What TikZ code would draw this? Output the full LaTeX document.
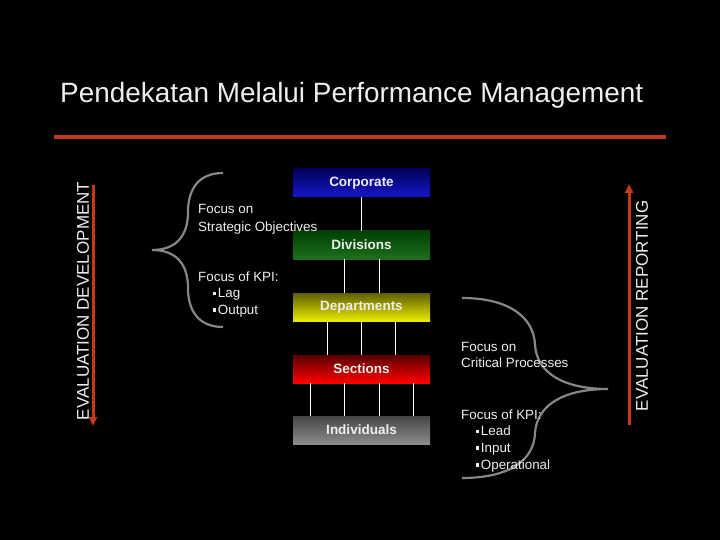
\documentclass[tikz,border=0pt]{standalone}
\usepackage{fontspec}
\setmainfont{Liberation Sans}
\usetikzlibrary{arrows.meta}
\definecolor{redline}{RGB}{192,58,28}
\definecolor{bracegray}{RGB}{135,135,135}
\definecolor{txt}{RGB}{238,238,238}
\tikzset{
  box/.style={minimum width=137pt, minimum height=28pt, inner sep=0pt, text=txt, font=\fontsize{13.5}{15}\selectfont\bfseries},
  lab/.style={anchor=base west, inner sep=0pt, text=txt, font=\fontsize{13.4}{15}\selectfont},
  side/.style={inner sep=0pt, text=txt, rotate=90, font=\fontsize{17}{19}\selectfont},
  conn/.style={draw=white, line width=1pt},
  brace/.style={draw=bracegray, line width=2.2pt},
  evarrow/.style={draw=redline, line width=3pt, -{Triangle[length=9pt,width=8pt]}}
}
\newcommand{\bul}{\raisebox{2.5pt}{\rule{3.2pt}{3.2pt}}\hspace{1.5pt}}
\begin{document}
\begin{tikzpicture}[x=1pt,y=-1pt]
\fill[black] (0,0) rectangle (720,540);
\useasboundingbox (0,0) rectangle (720,540);
% title
\node[anchor=base west, inner sep=0pt, text=txt, font=\fontsize{27.9}{30}\selectfont] (title) at (60,103) {Pendekatan Melalui Performance Management};
\fill[redline] (54,135.5) rectangle (666,139.5);
% side arrows
\coordinate (la1) at (93,185); \coordinate (la2) at (93,426);
\draw[evarrow] (la1) -- (la2);
\coordinate (ra1) at (629,425); \coordinate (ra2) at (629,184);
\draw[evarrow] (ra1) -- (ra2);
\node[side] (evdev) at (83,301) {EVALUATION DEVELOPMENT};
\node[side] (evrep) at (642,306) {EVALUATION REPORTING};
% boxes
\node[box, top color=blue!35!black, bottom color={rgb,255:red,22;green,22;blue,205}] (corp) at (361.5,183) {Corporate};
\node[box, top color=green!25!black, bottom color={rgb,255:red,28;green,112;blue,28}] (div) at (361.5,245) {Divisions};
\node[box, top color={rgb,255:red,95;green,95;blue,0}, bottom color={rgb,255:red,235;green,235;blue,0}] (dep) at (361.5,307) {Departments};
\node[box, top color={rgb,255:red,90;green,0;blue,0}, bottom color={rgb,255:red,255;green,0;blue,0}] (sec) at (361.5,369) {Sections};
\node[box, top color={rgb,255:red,70;green,70;blue,70}, bottom color={rgb,255:red,140;green,140;blue,140}] (ind) at (361.5,430) {Individuals};
% connectors
\draw[conn] (corp.south) -- (div.north);
\foreach \dx in {-17.5,17.5} \draw[conn] ([xshift=\dx]div.south) -- ([xshift=\dx]dep.north);
\foreach \dx in {-34,0,34} \draw[conn] ([xshift=\dx]dep.south) -- ([xshift=\dx]sec.north);
\foreach \dx in {-51.5,-17.5,17.5,51.5} \draw[conn] ([xshift=\dx]sec.south) -- ([xshift=\dx]ind.north);
% left brace
\draw[brace] (223,173) .. controls (198,173) and (188,190) .. (188,212)
  .. controls (188,236) and (176,250) .. (152,250)
  .. controls (176,250) and (188,264) .. (188,288)
  .. controls (188,310) and (198,327) .. (223,327);
% right brace
\draw[brace] (462,298) .. controls (510,298) and (534,318) .. (535,345)
  .. controls (537,374) and (565,389) .. (608,389)
  .. controls (565,389) and (537,404) .. (535,433)
  .. controls (534,460) and (510,478) .. (462,478);
% left labels
\node[lab] (l1) at (198,214) {Focus on};
\node[lab] (l2) at (198,231) {Strategic Objectives};
\node[lab] (l3) at (198,281) {Focus of KPI:};
\node[lab] (l4) at (213,297.5) {\bul Lag};
\node[lab] (l5) at (213,314) {\bul Output};
% right labels
\node[lab] (r1) at (461,351) {Focus on};
\node[lab] (r2) at (461,367.5) {Critical Processes};
\node[lab] (r3) at (461,419) {Focus of KPI:};
\node[lab] (r4) at (476,435.5) {\bul Lead};
\node[lab] (r5) at (476,452) {\bul Input};
\node[lab] (r6) at (476,469) {\bul Operational};
\end{tikzpicture}
\end{document}
